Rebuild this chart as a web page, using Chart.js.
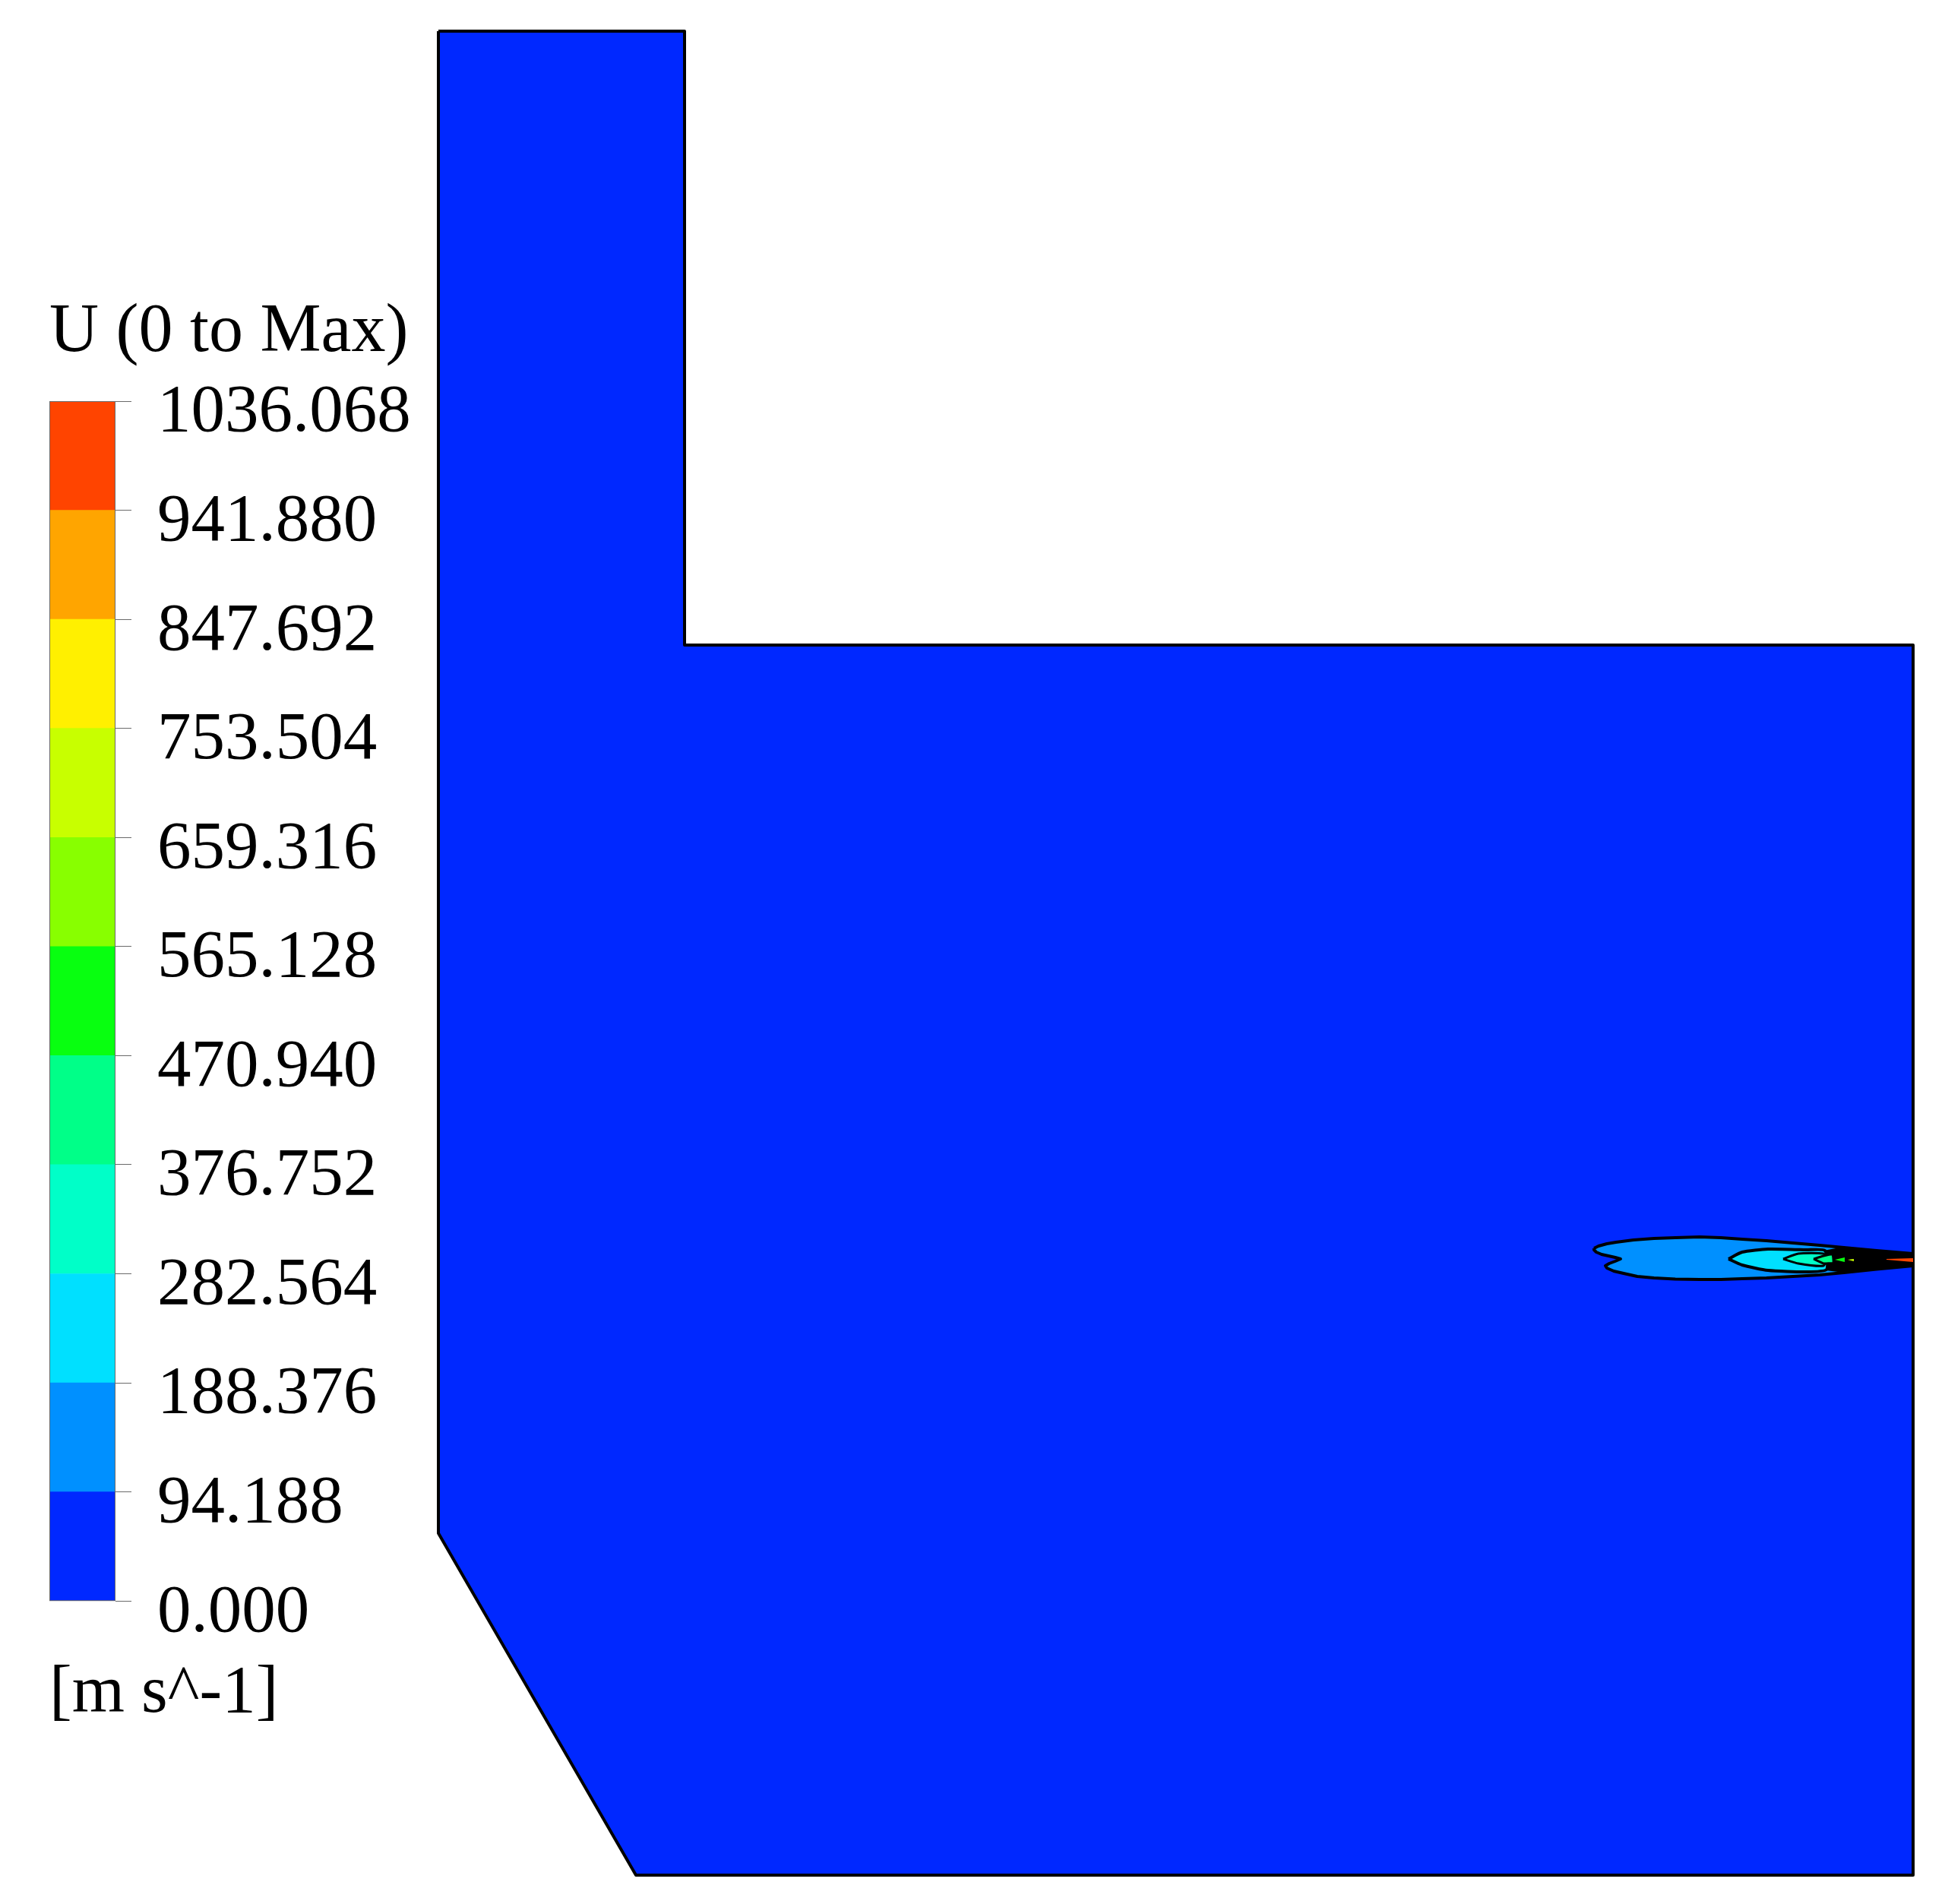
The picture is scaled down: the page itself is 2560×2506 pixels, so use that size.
<!DOCTYPE html>
<html>
<head>
<meta charset="utf-8">
<title>U (0 to Max)</title>
<script src="https://cdn.jsdelivr.net/npm/chart.js@4"></script>
<style>
  html, body { margin: 0; padding: 0; background: #fff; }
  #domain { position: absolute; left: 0; top: 0; }
  #legendBar { position: absolute; left: 0; top: 0; }
</style>
</head>
<body>
<canvas id="domain" width="2560" height="2506"></canvas>
<canvas id="legendBar" width="570" height="2304"></canvas>
<script>
// contour levels of the colour bar, bottom to top
var levels = [0, 94.188, 188.376, 282.564, 376.752, 470.94, 565.128, 659.316, 753.504, 847.692, 941.88, 1036.068];
var tickLabels = ["0.000", "94.188", "188.376", "282.564", "376.752", "470.940", "565.128", "659.316", "753.504", "847.692", "941.880", "1036.068"];
var bandColors = ["#0028ff", "#0090ff", "#00e0ff", "#00ffc8", "#00ff88", "#08ff10", "#88ff00", "#c8ff00", "#fff000", "#ffa500", "#ff4400"];

// outlines, in picture units
var wallX = [577, 901, 901, 2518, 2518, 837, 577, 577];
var wallY = [41, 41, 849, 849, 2468, 2468, 2018, 41];

var band1X = [2098, 2104, 2115, 2127, 2150, 2177, 2205, 2237, 2265, 2293, 2325, 2360, 2395, 2427, 2470, 2518, 2518, 2470, 2427, 2395, 2360, 2325, 2293, 2265, 2237, 2205, 2177, 2155, 2137, 2124, 2115, 2113, 2118, 2126, 2133, 2126, 2117, 2108, 2101, 2098, 2098];
var band1Y = [1643, 1640, 1637, 1635, 1632, 1630, 1629, 1628, 1629, 1631, 1633, 1636, 1639, 1642, 1646, 1650, 1666, 1670.5, 1675, 1678, 1680, 1682, 1683, 1684, 1684, 1683.5, 1682, 1680, 1676, 1673, 1669, 1666, 1663, 1660, 1657, 1655, 1653, 1651, 1648, 1645, 1643];

var coreX = [2400, 2427, 2518, 2518, 2427, 2403, 2400];
var coreY = [1646, 1641, 1650, 1666, 1675, 1672, 1646];

var band2X = [2275, 2293, 2327, 2377, 2402, 2404, 2377, 2327, 2293, 2275];
var band2Y = [1657, 1648, 1644, 1645, 1646, 1671, 1674, 1672, 1665, 1657];

var band3X = [2347, 2367, 2400, 2404, 2400, 2367, 2347];
var band3Y = [1657, 1650, 1650, 1656, 1666, 1663, 1657];

var band4X = [2387, 2400, 2412, 2413, 2400, 2387];
var band4Y = [1657, 1653, 1651, 1662, 1663, 1657];

var band5X = [2415, 2428, 2428, 2415];
var band5Y = [1658, 1655, 1661, 1658];

var band6X = [2432, 2440, 2440, 2432];
var band6Y = [1658, 1657, 1660, 1658];

var tipX = [2483, 2518, 2518, 2483];
var tipY = [1657, 1656, 1661, 1658];

function points(xs, ys) {
  return xs.map(function (x, i) { return { x: x, y: ys[i] }; });
}

function region(xs, ys, color, lineWidth, tension, order) {
  return {
    data: points(xs, ys),
    showLine: true,
    fill: "shape",
    backgroundColor: color,
    borderColor: lineWidth ? "#000000" : color,
    borderWidth: lineWidth,
    borderJoinStyle: "round",
    tension: tension,
    pointRadius: 0,
    order: order,
  };
}

new Chart(document.getElementById("domain").getContext("2d"), {
  type: "scatter",
  data: {
    datasets: [
      region(wallX, wallY, bandColors[0], 4, 0, 9),
      region(band1X, band1Y, bandColors[1], 4, 0, 8),
      region(coreX, coreY, "#000000", 0, 0, 7),
      region(band2X, band2Y, bandColors[2], 4, 0.2, 6),
      region(band3X, band3Y, bandColors[3], 3, 0.2, 5),
      region(band4X, band4Y, bandColors[4], 3, 0.1, 4),
      region(band5X, band5Y, bandColors[5], 0, 0, 3),
      region(band6X, band6Y, bandColors[7], 0, 0, 2),
      region(tipX, tipY, bandColors[10], 0, 0, 1),
    ],
  },
  options: {
    responsive: false,
    animation: false,
    layout: { padding: 0 },
    plugins: { legend: { display: false }, tooltip: { enabled: false } },
    scales: {
      x: { type: "linear", min: 0, max: 2560, display: false },
      y: { type: "linear", min: 0, max: 2506, reverse: true, display: false },
    },
  },
});

var legendFont = "'Liberation Serif', 'Times New Roman', serif";

var barEdge = {
  id: "barEdge",
  afterDatasetsDraw: function (chart) {
    var a = chart.chartArea;
    var ctx = chart.ctx;
    ctx.save();
    ctx.strokeStyle = "#6a6a6a";
    ctx.lineWidth = 1;
    ctx.strokeRect(a.left + 0.5, a.top + 0.5, a.right - a.left - 1, a.bottom - a.top - 1);
    ctx.restore();
  },
};

new Chart(document.getElementById("legendBar").getContext("2d"), {
  type: "bar",
  data: {
    labels: ["U"],
    datasets: bandColors.map(function (color, i) {
      return {
        data: [[levels[i], levels[i + 1]]],
        backgroundColor: color,
        borderWidth: 0,
        grouped: false,
        barPercentage: 1,
        categoryPercentage: 1,
      };
    }),
  },
  options: {
    responsive: false,
    animation: false,
    layout: { padding: { left: 65, right: 0, top: 0, bottom: 0 } },
    plugins: {
      legend: { display: false },
      tooltip: { enabled: false },
      title: {
        display: true,
        text: "U (0 to Max)",
        align: "start",
        color: "#000000",
        font: { family: legendFont, size: 90, weight: "normal", lineHeight: 1.2 },
        padding: { top: 384, bottom: 36 },
      },
      subtitle: {
        display: true,
        position: "bottom",
        text: "[m s^-1]",
        align: "start",
        color: "#000000",
        font: { family: legendFont, size: 89, weight: "normal", lineHeight: 1.2 },
        padding: { top: 69, bottom: 21 },
      },
    },
    scales: {
      x: { display: false, stacked: false },
      y: {
        type: "linear",
        position: "right",
        min: levels[0],
        max: levels[levels.length - 1],
        afterBuildTicks: function (axis) {
          axis.ticks = levels.map(function (v) { return { value: v }; });
        },
        afterFit: function (axis) {
          axis.width = 418;
          axis.paddingTop = 0;
          axis.paddingBottom = 0;
        },
        border: { display: false },
        grid: { drawOnChartArea: false, drawTicks: true, tickLength: 21, tickColor: "#6a6a6a", lineWidth: 1 },
        ticks: {
          autoSkip: false,
          padding: 34,
          labelOffset: 16,
          color: "#000000",
          font: { family: legendFont, size: 89 },
          callback: function (value, i) { return tickLabels[i]; },
        },
      },
    },
  },
  plugins: [barEdge],
});
</script>
</body>
</html>
